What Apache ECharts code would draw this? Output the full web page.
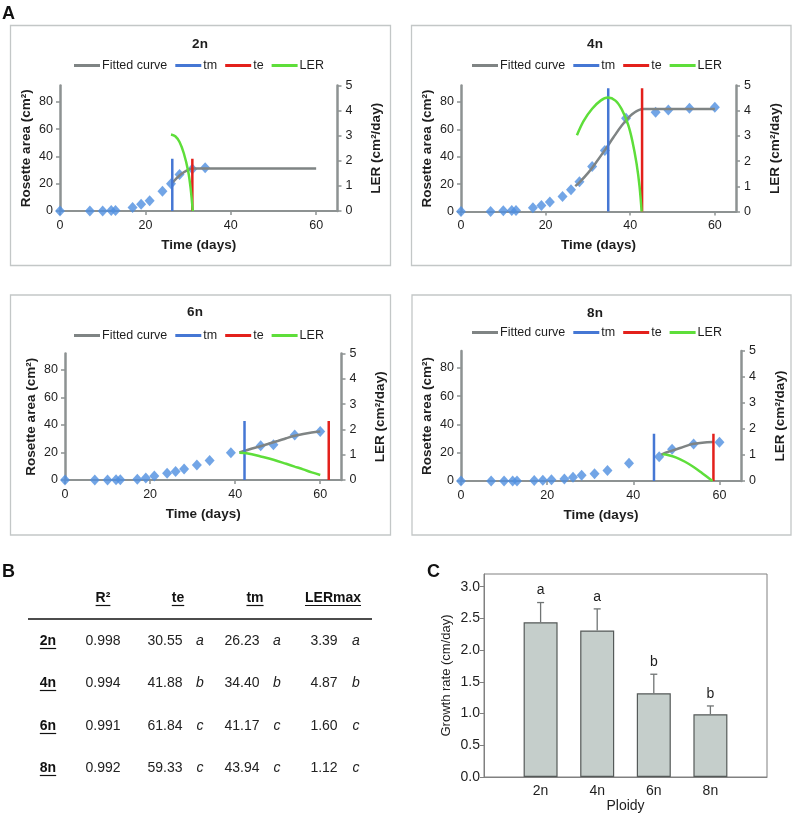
<!DOCTYPE html>
<html><head><meta charset="utf-8">
<script src="https://cdn.jsdelivr.net/npm/echarts@6/dist/echarts.min.js"></script>
<style>html,body{margin:0;padding:0;background:#fff}#c{width:794px;height:814px}</style>
</head><body><div id="c"></div>
<script>
const FONT = '"Liberation Sans", Arial, Helvetica, sans-serif';

// ---------- Panel A data ----------
const panelNames = ['2n', '4n', '6n', '8n'];
const legendNames = ['Fitted curve', 'tm', 'te', 'LER'];
const xTitle = 'Time (days)';
const yLeftTitle = 'Rosette area (cm²)';
const yRightTitle = 'LER (cm²/day)';

const days2n = [0, 7, 10, 12, 13, 17, 19, 21, 24, 26, 28, 31, 34];
const area2n = [0, 0, 0, 0.3, 0.4, 2.5, 4.9, 7.6, 14.5, 19.9, 26.7, 30.7, 31.7];
const days4n = [0, 7, 10, 12, 13, 17, 19, 21, 24, 26, 28, 31, 34, 39, 46, 49, 54, 60];
const area4n = [0, 0, 0.5, 0.7, 0.7, 2.7, 4.4, 7, 10.9, 15.8, 21.7, 32.8, 44.5, 68, 72.5, 74.2, 75.4, 76.2];
const days6n = [0, 7, 10, 12, 13, 17, 19, 21, 24, 26, 28, 31, 34, 39, 46, 49, 54, 60];
const area6n = [0, 0, 0, 0.2, 0.2, 0.5, 1.5, 3, 5, 6.1, 8, 10.9, 14.1, 19.9, 25, 25.7, 32.7, 35.2];
const days8n = [0, 7, 10, 12, 13, 17, 19, 21, 24, 26, 28, 31, 34, 39, 46, 49, 54, 60];
const area8n = [0, 0, 0, 0, 0, 0.3, 0.5, 0.9, 1.5, 2.6, 4, 5.2, 7.5, 12.5, 17.2, 22.4, 26.2, 27.4];

const fit2n = [[26.2, 20.5], [27, 23], [28, 26], [29, 28.4], [30, 30.2], [31, 31.1], [32, 31.2], [60, 31.2]];
const fit4n = [[27, 18.5], [28, 21.3], [30, 28], [32, 36.2], [34, 44.8], [36, 54], [38, 62.8], [40, 69.8], [41, 72.3], [42, 74], [43, 74.8], [60, 74.8]];
const fit6n = [[41, 20], [44, 22.9], [46, 24.6], [48, 26.5], [50, 28.4], [52, 30.4], [54, 32.2], [56, 33.5], [58, 34.5], [60, 35.2]];
const fit8n = [[46.5, 18.6], [48, 20.5], [49, 21.5], [51, 23.5], [53, 25.6], [54, 26.3], [56, 27.1], [58.6, 27.6]];

const ler2n = [[26, 3.05], [27, 2.98], [28, 2.75], [29, 2.3], [30, 1.6], [30.6, 0.9], [31.1, 0]];
const ler4n = [[27.4, 3.03], [29, 3.6], [31, 4.08], [33, 4.4], [34.7, 4.52], [36.5, 4.4], [38, 4.05], [39.5, 3.45], [40.5, 2.8], [41.5, 1.9], [42.2, 1.0], [42.7, 0]];
const ler6n = [[41, 1.08], [43, 1.05], [46, 0.93], [49, 0.8], [52, 0.64], [54, 0.53], [56, 0.42], [58, 0.3], [60, 0.2]];
const ler8n = [[46.8, 1.03], [48, 1.0], [50, 0.9], [52, 0.74], [54, 0.54], [56, 0.3], [58.4, 0]];

const tmDay = [26.3, 34.8, 42.2, 44.8];
const teDay = [31.0, 42.8, 62.0, 58.6];
const markTop = [38.3, 90, 43, 33.5];

const daysAll = [days2n, days4n, days6n, days8n];
const areaAll = [area2n, area4n, area6n, area8n];
const fitAll = [fit2n, fit4n, fit6n, fit8n];
const lerAll = [ler2n, ler4n, ler6n, ler8n];

// ---------- Panel B data ----------
const tableHeaders = ['R²', 'te', 'tm', 'LERmax'];
const tableRows = ['2n', '4n', '6n', '8n'];
const r2Vals = ['0.998', '0.994', '0.991', '0.992'];
const teVals = ['30.55', '41.88', '61.84', '59.33'];
const teSig = ['a', 'b', 'c', 'c'];
const tmVals = ['26.23', '34.40', '41.17', '43.94'];
const tmSig = ['a', 'b', 'c', 'c'];
const lerMaxVals = ['3.39', '4.87', '1.60', '1.12'];
const lerSig = ['a', 'b', 'c', 'c'];

// ---------- Panel C data ----------
const ploidy = ['2n', '4n', '6n', '8n'];
const growthRate = [2.44, 2.31, 1.32, 0.99];
const growthErr = [0.31, 0.34, 0.30, 0.13];
const growthSig = ['a', 'a', 'b', 'b'];

// ---------- layout ----------
const AX = '#8d9292';
const TXT = '#1e1e1e';
const COL = { fit: '#7f8484', tm: '#4577d4', te: '#e3201b', ler: '#5ede3a', pt: '#4f8fe0' };
const panels = [
  { box: [10.5, 25.5, 380, 240], grid: { left: 60, top: 85.5, width: 277.5, height: 125.5 }, title: [200, 44], legend: [74, 59] },
  { box: [411.5, 25.5, 379.5, 240], grid: { left: 461, top: 85.5, width: 275, height: 126 }, title: [595, 44], legend: [472, 59] },
  { box: [10.5, 295, 380, 240], grid: { left: 65, top: 353.5, width: 276.5, height: 126.5 }, title: [195, 312], legend: [74, 329] },
  { box: [412, 295, 379, 240], grid: { left: 461, top: 351, width: 280, height: 130 }, title: [595, 313], legend: [472, 326] }
];

const grids = [], xAxes = [], yAxes = [], series = [], legends = [], graphics = [];

panels.forEach((p, k) => {
  grids.push(Object.assign({ containLabel: false }, p.grid));
  xAxes.push({
    type: 'value', gridIndex: k, min: 0, max: 65, interval: 20,
    axisLine: { show: true, onZero: false, lineStyle: { color: AX, width: 2 } },
    axisTick: { show: true, length: 4, lineStyle: { color: AX, width: 1.5 } },
    splitLine: { show: false },
    axisLabel: { fontSize: 12.5, color: TXT, margin: 8, showMaxLabel: false, fontFamily: FONT },
    name: xTitle, nameLocation: 'middle', nameGap: 27,
    nameTextStyle: { fontSize: 13.5, fontWeight: 'bold', color: TXT, fontFamily: FONT }
  });
  yAxes.push({
    type: 'value', gridIndex: k, position: 'left', min: 0, max: 92, interval: 20,
    axisLine: { show: true, lineStyle: { color: AX, width: 2.5 } },
    axisTick: { show: true, length: 4, lineStyle: { color: AX, width: 1.5 } },
    splitLine: { show: false },
    axisLabel: { fontSize: 12.5, color: TXT, margin: 7, showMaxLabel: false, fontFamily: FONT },
    name: yLeftTitle, nameLocation: 'middle', nameGap: 27, nameRotate: 90,
    nameTextStyle: { fontSize: 13.5, fontWeight: 'bold', color: TXT, fontFamily: FONT }
  });
  yAxes.push({
    type: 'value', gridIndex: k, position: 'right', min: 0, max: 5, interval: 1,
    axisLine: { show: true, lineStyle: { color: AX, width: 2.5 } },
    axisTick: { show: true, length: 4, lineStyle: { color: AX, width: 1.5 } },
    splitLine: { show: false },
    axisLabel: { fontSize: 12.5, color: TXT, margin: 8, fontFamily: FONT },
    name: yRightTitle, nameLocation: 'middle', nameGap: 32, nameRotate: 90,
    nameTextStyle: { fontSize: 13.5, fontWeight: 'bold', color: TXT, fontFamily: FONT }
  });
  const yl = 2 * k, yr = 2 * k + 1;
  series.push({
    type: 'scatter', name: 'Measured', xAxisIndex: k, yAxisIndex: yl,
    data: daysAll[k].map((d, i) => [d, areaAll[k][i]]),
    symbol: 'diamond', symbolSize: [10, 11], itemStyle: { color: COL.pt }, z: 2
  });
  series.push({
    type: 'line', name: legendNames[0], xAxisIndex: k, yAxisIndex: yl, data: fitAll[k],
    smooth: 0.35, symbol: 'none', lineStyle: { color: COL.fit, width: 2.5 }, itemStyle: { color: COL.fit }, z: 3
  });
  series.push({
    type: 'line', name: legendNames[1], xAxisIndex: k, yAxisIndex: yl,
    data: [[tmDay[k], 0], [tmDay[k], markTop[k]]],
    symbol: 'none', lineStyle: { color: COL.tm, width: 2.5 }, itemStyle: { color: COL.tm }, z: 4
  });
  series.push({
    type: 'line', name: legendNames[2], xAxisIndex: k, yAxisIndex: yl,
    data: [[teDay[k], 0], [teDay[k], markTop[k]]],
    symbol: 'none', lineStyle: { color: COL.te, width: 2.5 }, itemStyle: { color: COL.te }, z: 4
  });
  series.push({
    type: 'line', name: legendNames[3], xAxisIndex: k, yAxisIndex: yr, data: lerAll[k],
    smooth: 0.35, symbol: 'none', lineStyle: { color: COL.ler, width: 2.5 }, itemStyle: { color: COL.ler }, z: 5
  });
  legends.push({
    data: legendNames, left: p.legend[0], top: p.legend[1], orient: 'horizontal',
    icon: 'rect', itemWidth: 26, itemHeight: 3, itemGap: 8, padding: 0, selectedMode: false,
    textStyle: { fontSize: 12.5, color: TXT, fontFamily: FONT, padding: [0, 0, 0, -3] }
  });
  graphics.push({
    type: 'rect', shape: { x: p.box[0], y: p.box[1], width: p.box[2], height: p.box[3] },
    style: { fill: 'none', stroke: '#c3c7c7', lineWidth: 1.3 }, silent: true
  });
  graphics.push({
    type: 'text', x: p.title[0], y: p.title[1],
    style: { text: panelNames[k], fontSize: 13.5, fontWeight: 'bold', fontFamily: FONT, fill: TXT, align: 'center', verticalAlign: 'middle' }
  });
});

// Panel C: bar chart
grids.push({ left: 484, top: 574, width: 283, height: 203, show: true, borderColor: '#808080', borderWidth: 1, backgroundColor: 'transparent' });
xAxes.push({
  type: 'category', gridIndex: 4, data: [''].concat(ploidy, ['']), boundaryGap: false,
  axisLine: { show: true, lineStyle: { color: '#808080', width: 1 } },
  axisTick: { show: false }, splitLine: { show: false },
  axisLabel: { fontSize: 14, color: TXT, margin: 7, fontFamily: FONT },
  name: 'Ploidy', nameLocation: 'middle', nameGap: 22,
  nameTextStyle: { fontSize: 14, color: TXT, fontFamily: FONT }
});
yAxes.push({
  type: 'value', gridIndex: 4, min: 0, max: 3.2, interval: 0.5,
  axisLine: { show: true, lineStyle: { color: '#808080', width: 1 } },
  axisTick: { show: true, length: 4, lineStyle: { color: '#808080' } },
  splitLine: { show: false },
  axisLabel: { fontSize: 14, color: TXT, margin: 4, showMaxLabel: false, fontFamily: FONT, formatter: v => v.toFixed(1) },
  name: 'Growth rate (cm/day)', nameLocation: 'middle', nameGap: 31, nameRotate: 90,
  nameTextStyle: { fontSize: 13, color: TXT, fontFamily: FONT }
});
series.push({
  type: 'bar', name: 'Growth rate', xAxisIndex: 4, yAxisIndex: 8,
  data: growthRate.map((v, i) => [i + 1, v]), barWidth: 34,
  itemStyle: { color: '#c5cecb', borderColor: '#555a59', borderWidth: 1.2 }, z: 2
});
series.push({
  type: 'custom', name: 'Error', xAxisIndex: 4, yAxisIndex: 8,
  data: growthRate.map((v, i) => [i + 1, v, growthErr[i]]),
  renderItem: function (params, api) {
    const idx = api.value(0), v = api.value(1), e = api.value(2);
    const p0 = api.coord([idx, v]);
    const p1 = api.coord([idx, v + e]);
    const st = { stroke: '#707474', lineWidth: 1.3 };
    return {
      type: 'group', children: [
        { type: 'line', shape: { x1: p0[0], y1: p0[1], x2: p1[0], y2: p1[1] }, style: st },
        { type: 'line', shape: { x1: p1[0] - 3.5, y1: p1[1], x2: p1[0] + 3.5, y2: p1[1] }, style: st },
        { type: 'text', x: p1[0], y: p1[1] - 12, style: { text: growthSig[params.dataIndex], fontSize: 14, fontFamily: FONT, fill: TXT, align: 'center', verticalAlign: 'middle' } }
      ]
    };
  },
  z: 3
});

// Letters A, B, C
[['A', 2, 14], ['B', 2, 572], ['C', 427, 572]].forEach(t => {
  graphics.push({ type: 'text', x: t[1], y: t[2], style: { text: t[0], fontSize: 18, fontWeight: 'bold', fontFamily: FONT, fill: '#111', align: 'left', verticalAlign: 'middle' } });
});

// Panel B table
const ctx = document.createElement('canvas').getContext('2d');
function tw(text, font) { ctx.font = font; return ctx.measureText(text).width; }
const hdrX = [103, 178, 255, 333];
const hdrY = 598;
tableHeaders.forEach((h, i) => {
  graphics.push({ type: 'text', x: hdrX[i], y: hdrY, style: { text: h, fontSize: 14, fontWeight: 'bold', fontFamily: FONT, fill: '#111', align: 'center', verticalAlign: 'middle' } });
  const w = tw(h, 'bold 14px "Liberation Sans"');
  graphics.push({ type: 'line', shape: { x1: hdrX[i] - w / 2, y1: hdrY + 7.5, x2: hdrX[i] + w / 2, y2: hdrY + 7.5 }, style: { stroke: '#111', lineWidth: 1.2 } });
});
graphics.push({ type: 'line', shape: { x1: 28, y1: 619, x2: 372, y2: 619 }, style: { stroke: '#111', lineWidth: 1.6 } });
const rowY = [641, 683, 726, 768];
tableRows.forEach((r, i) => {
  const y = rowY[i];
  const w = tw(r, 'bold 14px "Liberation Sans"');
  graphics.push({ type: 'text', x: 48, y: y, style: { text: r, fontSize: 14, fontWeight: 'bold', fontFamily: FONT, fill: '#111', align: 'center', verticalAlign: 'middle' } });
  graphics.push({ type: 'line', shape: { x1: 48 - w / 2, y1: y + 7.5, x2: 48 + w / 2, y2: y + 7.5 }, style: { stroke: '#111', lineWidth: 1.2 } });
  const cells = [[r2Vals[i], 103, false], [teVals[i], 165, false], [teSig[i], 200, true], [tmVals[i], 242, false], [tmSig[i], 277, true], [lerMaxVals[i], 324, false], [lerSig[i], 356, true]];
  cells.forEach(c => {
    graphics.push({ type: 'text', x: c[1], y: y, style: { text: c[0], fontSize: 14, fontStyle: c[2] ? 'italic' : 'normal', fontFamily: FONT, fill: '#222', align: 'center', verticalAlign: 'middle' } });
  });
});

const option = {
  animation: false,
  backgroundColor: '#ffffff',
  textStyle: { fontFamily: FONT },
  grid: grids, xAxis: xAxes, yAxis: yAxes,
  legend: legends, series: series, graphic: graphics
};
const chart = echarts.init(document.getElementById('c'), null, { renderer: 'canvas' });
chart.setOption(option);
</script>
</body></html>
